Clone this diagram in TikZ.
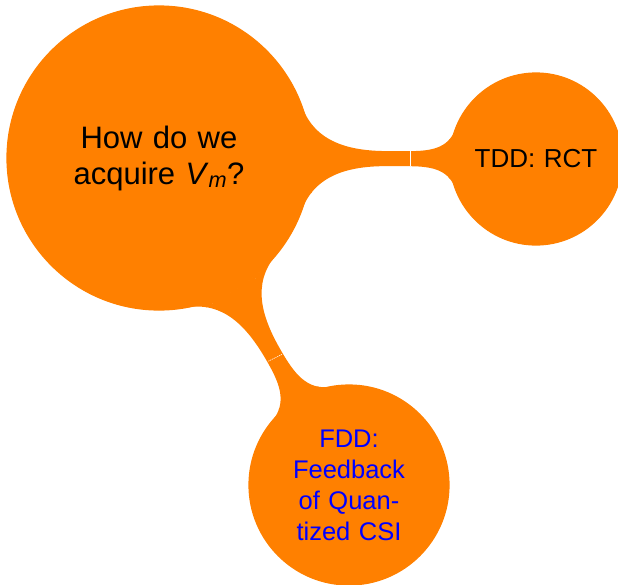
\documentclass[tikz,border=0pt]{standalone}
\usepackage{fontspec}
\setmainfont{Liberation Sans}
\usetikzlibrary{mindmap,backgrounds}
\definecolor{conceptorange}{RGB}{255,128,0}
\begin{document}
\begin{tikzpicture}[x=1pt,y=-1pt,mindmap,concept color=conceptorange,
  every concept/.append style={inner sep=0pt,outer sep=0pt,text=black,align=center},
  bigidea/.style={concept,minimum size=304pt,text width=220pt,font=\fontsize{31}{36}\selectfont},
  subidea/.style={concept,minimum size=#1,text width=150pt,font=\fontsize{26}{31}\selectfont},
  bar/.style={circle connection bar switch color=from (conceptorange) to (conceptorange)},
  seam/.style={white,line width=0.6pt}]
\useasboundingbox (0,0) rectangle (618,584);
% the question and its two answers
\node[bigidea] (root) at (159,158) {How do we\\acquire \textit{V}\textsubscript{\textit{m}}?};
\node[subidea=172pt] (tdd) at (536,159) {TDD: RCT};
\node[subidea=200pt,font=\fontsize{25.5}{31}\selectfont,text=blue] (fdd) at (349,485)
  {FDD:\\Feedback\\of Quan-\\tized CSI};
% ends of the colour seams across the bars
\coordinate (tddseamA) at (410.3,150.5);
\coordinate (tddseamB) at (410.3,166.2);
\coordinate (fddseamA) at (268.3,361.2);
\coordinate (fddseamB) at (282.4,354.2);
% connection bars between the bubbles
\begin{pgfonlayer}{background}
  \path (root) to[bar] (tdd);
  \path (root) to[bar] (fdd);
\end{pgfonlayer}
\draw[seam] (tddseamA) -- (tddseamB);
\draw[seam,dash pattern=on 1.2pt off 0.8pt] (fddseamA) -- (fddseamB);
\end{tikzpicture}
\end{document}
